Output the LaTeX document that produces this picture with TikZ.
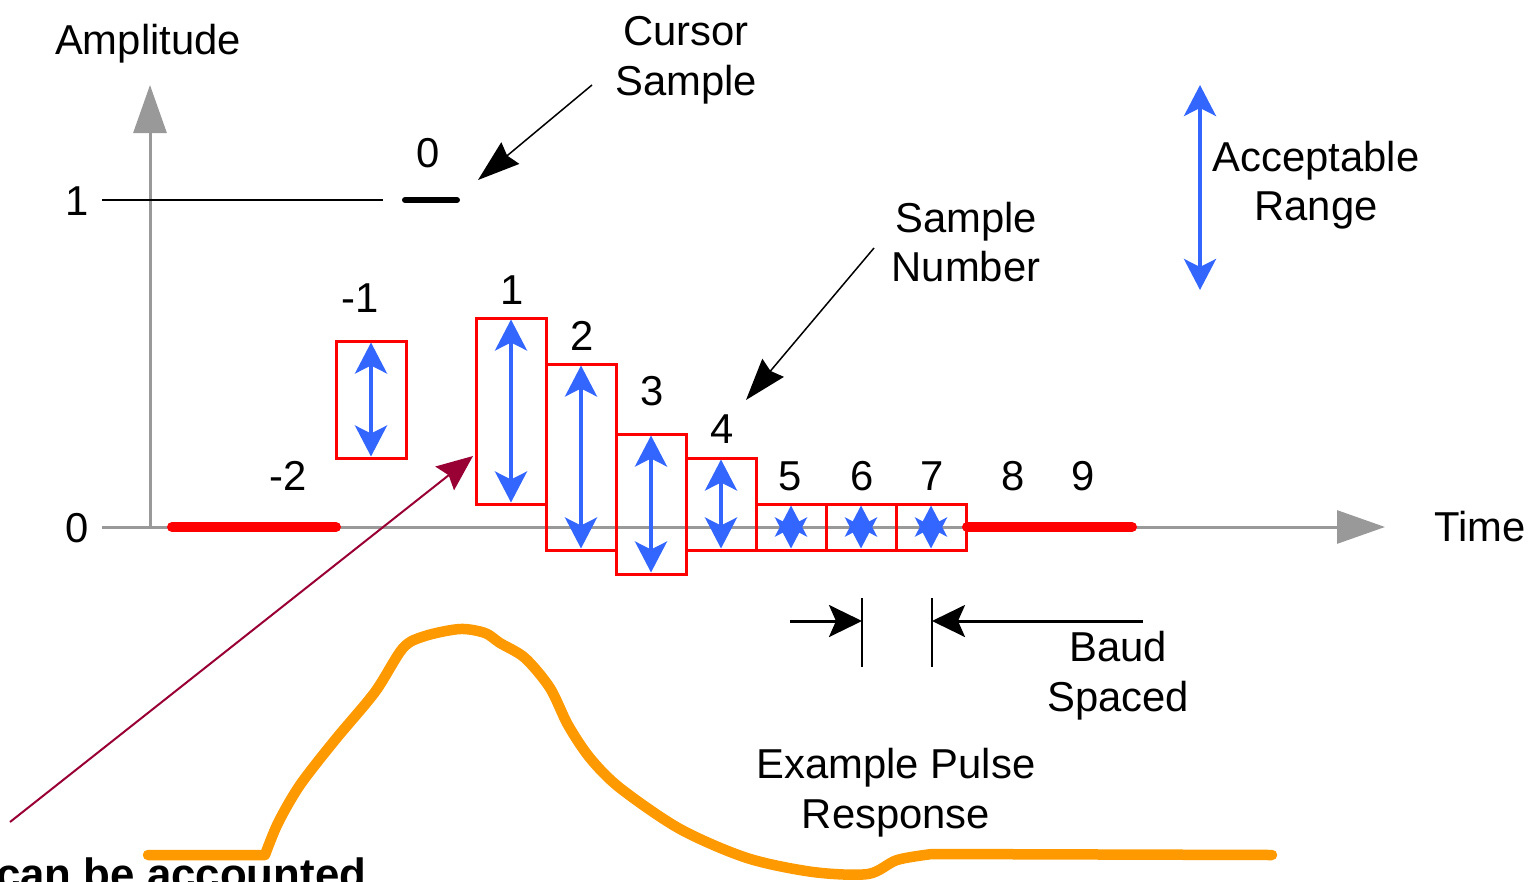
\documentclass[tikz,border=0pt]{standalone}
\usepackage{fontspec}
\setmainfont{Liberation Sans}
\usetikzlibrary{arrows.meta}
\definecolor{axisgray}{HTML}{999999}
\definecolor{boxred}{HTML}{FF0000}
\definecolor{rangeblue}{HTML}{3366FF}
\definecolor{pulseorange}{HTML}{FF9900}
\definecolor{darkred}{HTML}{990033}
\tikzset{
  lbl/.style={anchor=base, inner sep=0pt, outer sep=0pt},
  axisline/.style={draw=axisgray, line width=3pt, -{Triangle[length=48pt,width=33pt]}},
  sbox/.style={draw=boxred, line width=3pt, minimum width=70pt, inner sep=0pt, outer sep=0pt},
  rangearrow/.style={draw=rangeblue, line width=4pt, {Stealth[length=31pt,width=32pt,inset=8pt]}-{Stealth[length=31pt,width=32pt,inset=8pt]}},
  pointer/.style={draw=black, line width=1.5pt, -{Stealth[length=42pt,width=28pt,inset=4pt]}},
  baudarrow/.style={draw=black, line width=3pt, -{Stealth[length=33pt,width=32pt,inset=7pt]}},
  redbar/.style={draw=boxred, line width=10pt, line cap=round},
}
\begin{document}
\begin{tikzpicture}[x=1pt,y=-1pt,font=\fontsize{41.8}{50}\selectfont]
\useasboundingbox (0,0) rectangle (1531,881);

% axes
\coordinate (xstart) at (102,527);
\coordinate (xend) at (1385,527);
\coordinate (ystart) at (150,527);
\coordinate (yend) at (150,85);
\draw[axisline] (xstart) -- (xend);
\draw[axisline] (ystart) -- (yend);

% level 1 lines
\coordinate (oneA) at (102,200);
\coordinate (oneB) at (383,200);
\coordinate (curA) at (405,200);
\coordinate (curB) at (457,200);
\draw[line width=2.5pt] (oneA) -- (oneB);
\draw[line width=6pt, line cap=round] (curA) -- (curB);

% red bars on zero
\coordinate (rA) at (172,527);
\coordinate (rB) at (336,527);
\coordinate (rC) at (967,527);
\coordinate (rD) at (1132,527);
\draw[redbar] (rA) -- (rB);
\draw[redbar] (rC) -- (rD);

% sample boxes
\node[sbox, minimum height=117pt] (bm1) at (371,399.5) {};
\node[sbox, minimum height=186pt] (b1) at (511,411) {};
\node[sbox, minimum height=186pt] (b2) at (581,457) {};
\node[sbox, minimum height=140pt] (b3) at (651,504) {};
\node[sbox, minimum height=92pt] (b4) at (721,504) {};
\node[sbox, minimum height=46pt] (b5) at (791,527) {};
\node[sbox, minimum height=46pt] (b6) at (861,527) {};
\node[sbox, minimum height=46pt] (b7) at (931,527) {};

\foreach \b in {bm1,b1,b2,b3,b4,b5,b6,b7}{
  \draw[rangearrow, shorten <=1.5pt, shorten >=1.5pt] (\b.north) -- (\b.south);
}

% labels
\node[lbl] (amp) at (148,54) {Amplitude};
\node[lbl] (time) at (1480,541) {Time};
\node[lbl] (zero) at (77,542) {0};
\node[lbl] (one) at (77,215) {1};
\node[lbl] (s0) at (428,167) {0};
\node[lbl] (sm1) at (360,312) {-1};
\node[lbl] (sm2) at (288,490) {-2};
\node[lbl] (s1) at (512,304) {1};
\node[lbl] (s2) at (582,350) {2};
\node[lbl] (s3) at (652,405) {3};
\node[lbl] (s4) at (722,443) {4};
\node[lbl] (s5) at (790,490) {5};
\node[lbl] (s6) at (862,490) {6};
\node[lbl] (s7) at (932,490) {7};
\node[lbl] (s8) at (1013,490) {8};
\node[lbl] (s9) at (1083,490) {9};

\node[lbl] (cur1) at (686,45) {Cursor};
\node[lbl] (cur2) at (686,95) {Sample};
\node[lbl] (sn1) at (966,232) {Sample};
\node[lbl] (sn2) at (966,281) {Number};
\node[lbl] (ar1) at (1316,171) {Acceptable};
\node[lbl] (ar2) at (1316,220) {Range};
\node[lbl] (bd1) at (1118,661) {Baud};
\node[lbl] (bd2) at (1118,711) {Spaced};
\node[lbl] (ep1) at (896,778) {Example Pulse};
\node[lbl] (ep2) at (896,828) {Response};

% pointers
\coordinate (curTail) at (592,85);
\coordinate (curTip) at (478,180);
\draw[pointer] (curTail) -- (curTip);
\coordinate (snTail) at (874,248);
\coordinate (snTip) at (746,400);
\draw[pointer] (snTail) -- (snTip);

% acceptable range arrow
\coordinate (arTop) at (1200,85);
\coordinate (arBot) at (1200,290);
\draw[rangearrow] (arBot) -- (arTop);

% baud spacing
\coordinate (v1a) at (862,598);
\coordinate (v1b) at (862,667);
\coordinate (v2a) at (932,598);
\coordinate (v2b) at (932,667);
\draw[line width=1.5pt] (v1a) -- (v1b);
\draw[line width=1.5pt] (v2a) -- (v2b);
\coordinate (bl) at (790,621);
\coordinate (bl2) at (862,621);
\coordinate (br) at (1143,621);
\coordinate (br2) at (932,621);
\draw[baudarrow] (bl) -- (bl2);
\draw[baudarrow] (br) -- (br2);

% dark red pointer
\coordinate (drTail) at (10,822);
\coordinate (drTip) at (473,456);
\draw[darkred, line width=2pt, -{Stealth[length=36pt,width=30pt,inset=5pt]}] (drTail) -- (drTip);

% pulse response
\draw[pulseorange, line width=10.5pt, line cap=round, line join=round]
  (148,855) -- plot[smooth, tension=0.5] coordinates {
   (265,855) (278,823) (300,785) (335,740) (375,692) (403,648) (425,636)
   (460,629) (485,633) (500,643) (525,658) (550,688) (568,725) (590,758)
   (620,788) (680,829) (747,858) (813,872) (868,874) (897,860) (932,854)}
  -- (1272,855);

% cut-off bold note (cut at the lower edge, as in the reference)
\node[anchor=base west, inner sep=0pt, font=\fontsize{43.8}{50}\selectfont\bfseries] (note) at (-4,889) {can be accounted};
\end{tikzpicture}
\end{document}
